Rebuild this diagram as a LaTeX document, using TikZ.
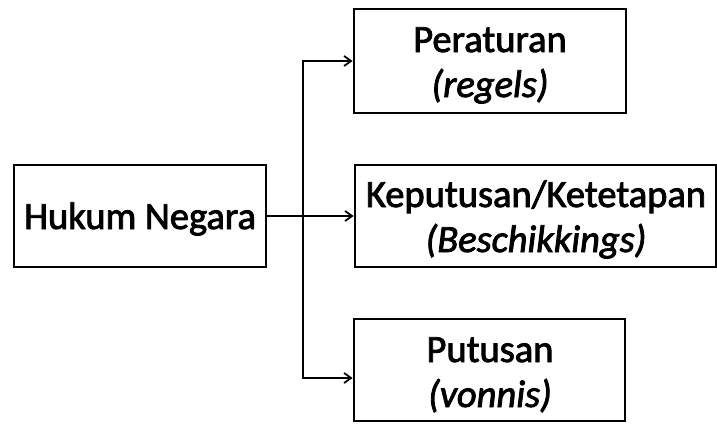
\documentclass[tikz,border=0pt]{standalone}
\usepackage{fontspec}
\setmainfont{Carlito}
\newfontfamily\heavy{Carlito}[FakeBold=2.2]
\usetikzlibrary{arrows.meta}
\begin{document}
\begin{tikzpicture}[x=1pt,y=-1pt,
  box/.style={draw, line width=2.8pt, inner sep=0pt},
  lbl/.style={anchor=base, inner sep=0pt, font=\heavy\fontsize{38.5}{40}\selectfont},
  sub/.style={anchor=base, inner sep=0pt, font=\heavy\fontsize{38.5}{40}\selectfont\itshape},
  link/.style={line width=1.8pt, -{Straight Barb[length=7pt,width=10pt]}}]
\useasboundingbox (0,0) rectangle (717,423);

% boxes
\node[box, minimum width=252pt, minimum height=102pt] (hn) at (140,216) {};
\node[box, minimum width=272pt, minimum height=104pt] (pr) at (490,61) {};
\node[box, minimum width=361pt, minimum height=102pt] (kk) at (535.5,216) {};
\node[box, minimum width=271pt, minimum height=102pt] (pt) at (489.5,370) {};

% labels
\node[lbl] (hnT) at (140,229) {Hukum Negara};
\node[lbl] (prT) at (490,52) {Peraturan};
\node[sub] (prS) at (490,97) {(regels)};
\node[lbl] (kkT) at (536,207) {Keputusan/Ketetapan};
\node[sub] (kkS) at (536,252) {(Beschikkings)};
\node[lbl] (ptT) at (490,362) {Putusan};
\node[sub] (ptS) at (490,407) {(vonnis)};

% connectors
\coordinate (j) at (303,216);
\coordinate (ptIn) at (pt.west |- 0,378);
\draw[link] (hn.east) -- (kk.west);
\draw[link] (j) |- (pr.west);
\draw[link] (j) |- (ptIn);
\end{tikzpicture}
\end{document}
